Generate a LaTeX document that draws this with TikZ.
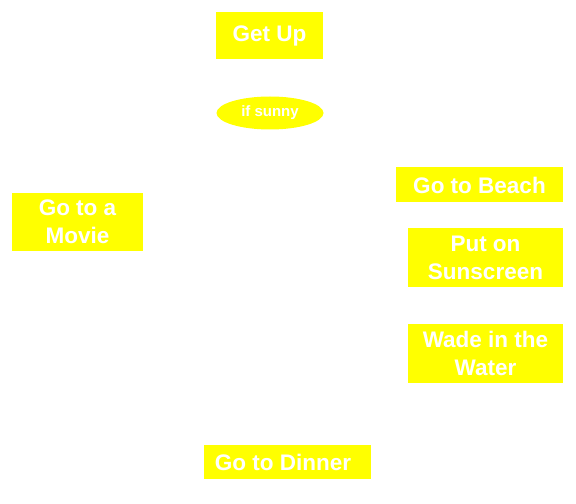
\documentclass[tikz,border=0pt]{standalone}
\usepackage{fontspec}
\setmainfont{Liberation Sans}
\usepackage{tikz}
\usetikzlibrary{shapes.geometric}
\definecolor{boxyellow}{RGB}{255,255,0}
\tikzstyle{task}=[
  rectangle,fill=boxyellow,text=white,inner sep=0pt,align=center,
  font=\bfseries\fontsize{22.5bp}{28bp}\selectfont
]
\tikzstyle{cond}=[
  ellipse,fill=boxyellow,text=white,inner sep=0pt,
  font=\bfseries\fontsize{15bp}{18bp}\selectfont
]
\begin{document}
\begin{tikzpicture}[x=1bp,y=-1bp]
        \useasboundingbox (0,0) rectangle (576,504);
        \node (getup) at (269.5, 35.5) [task, minimum width=107bp, minimum height=47bp] {Get Up};
        \node (sunny) at (270, 113) [cond, minimum width=107bp, minimum height=33bp] {if sunny};
        \node (movie) at (77.5, 222) [task, minimum width=131bp, minimum height=58bp] {Go to a\\Movie};
        \node (beach) at (479.5, 185) [task, minimum width=167bp, minimum height=35bp] {Go to Beach};
        \node (sunscreen) at (485.5, 257.5) [task, minimum width=155bp, minimum height=58bp] {Put on\\Sunscreen};
        \node (wade) at (485.5, 353.7) [task, minimum width=155bp, minimum height=59bp] {Wade in the\\Water};
        \node (dinner) at (287.5, 462) [task, minimum width=167bp, minimum height=34bp] {Go to Dinner\hspace{9bp}};
\end{tikzpicture}
\end{document}
